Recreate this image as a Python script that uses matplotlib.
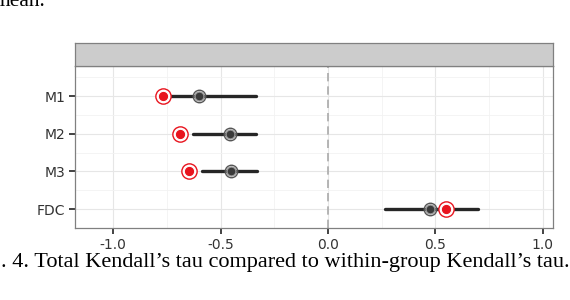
import numpy as np
import matplotlib.pyplot as plt

# data
groups = ['M1', 'M2', 'M3', 'FDC']
line_lo = [-0.75, -0.626, -0.585, 0.265]
line_hi = [-0.335, -0.336, -0.332, 0.699]
within_tau = [-0.599, -0.456, -0.451, 0.474]   # dark points
total_tau = [-0.769, -0.688, -0.647, 0.549]    # red points
xticks = [-1.0, -0.5, 0.0, 0.5, 1.0]

fig = plt.figure(figsize=(5.7, 3), dpi=100)
W, H = 570, 300
x0, x1, y_top, y_bot = 75, 553, 66, 228
ax = fig.add_axes([x0 / W, 1 - y_bot / H, (x1 - x0) / W, (y_bot - y_top) / H])

ypos = np.arange(len(groups), 0, -1)

ax.set_xlim(-1.177, 1.047)
ax.set_ylim(0.5, 4.8)

# grid like theme_bw
for v in np.arange(-1.0, 1.01, 0.25):
    major = abs(v * 2 - round(v * 2)) < 1e-9
    ax.axvline(v, color='#e6e6e6' if major else '#f2f2f2', lw=0.8 if major else 0.6, zorder=0)
for v in ypos:
    ax.axhline(v, color='#e6e6e6', lw=0.8, zorder=0)
for v in [1.5, 2.5, 3.5, 4.5]:
    ax.axhline(v, color='#f2f2f2', lw=0.6, zorder=0)

ax.axvline(0, color='#aaaaaa', lw=1.2, ls=(0, (5, 3)), zorder=1)

for y, lo, hi, g, t in zip(ypos, line_lo, line_hi, within_tau, total_tau):
    ax.plot([lo, hi], [y, y], color='#262626', lw=2.4, solid_capstyle='round', zorder=2)
    ax.plot(g, y, 'o', ms=9, mfc='none', mec='#555555', mew=1.0, zorder=3)
    ax.plot(g, y, 'o', ms=6.5, mfc='#3a3a3a', mec='#999999', mew=1.0, zorder=3)
    ax.plot(t, y, 'o', ms=11, mfc='white', mec='#e8141e', mew=1.0, zorder=4)
    ax.plot(t, y, 'o', ms=7.5, mfc='#e8141e', mec='white', mew=0.8, zorder=4)

ax.set_yticks(ypos)
ax.set_yticklabels(groups)
ax.set_xticks(xticks)
ax.set_xticklabels(['%.1f' % v for v in xticks])
ax.tick_params(axis='both', length=4, width=1.2, color='#222222',
               labelsize=10, labelcolor='#333333', pad=3)
for s in ax.spines.values():
    s.set_color('#808080')
    s.set_linewidth(0.9)

# facet strip
strip = fig.add_axes([x0 / W, 1 - 66 / H, (x1 - x0) / W, 23 / H])
strip.set_xticks([])
strip.set_yticks([])
strip.set_facecolor('#cccccc')
for s in strip.spines.values():
    s.set_color('#808080')
    s.set_linewidth(0.9)

# surrounding paper text (cropped in the source)
fig.text(-0.012, 1 - 6 / H, 'mean.', family='Liberation Serif', fontsize=15.5,
         va='baseline', ha='left')
fig.text(0.002, 1 - 263 / H, ". 4. Total Kendall\u2019s tau compared to within-group Kendall\u2019s tau.",
         family='Liberation Serif', fontsize=16, va='center', ha='left')

fig.savefig('out.png', dpi=100)
